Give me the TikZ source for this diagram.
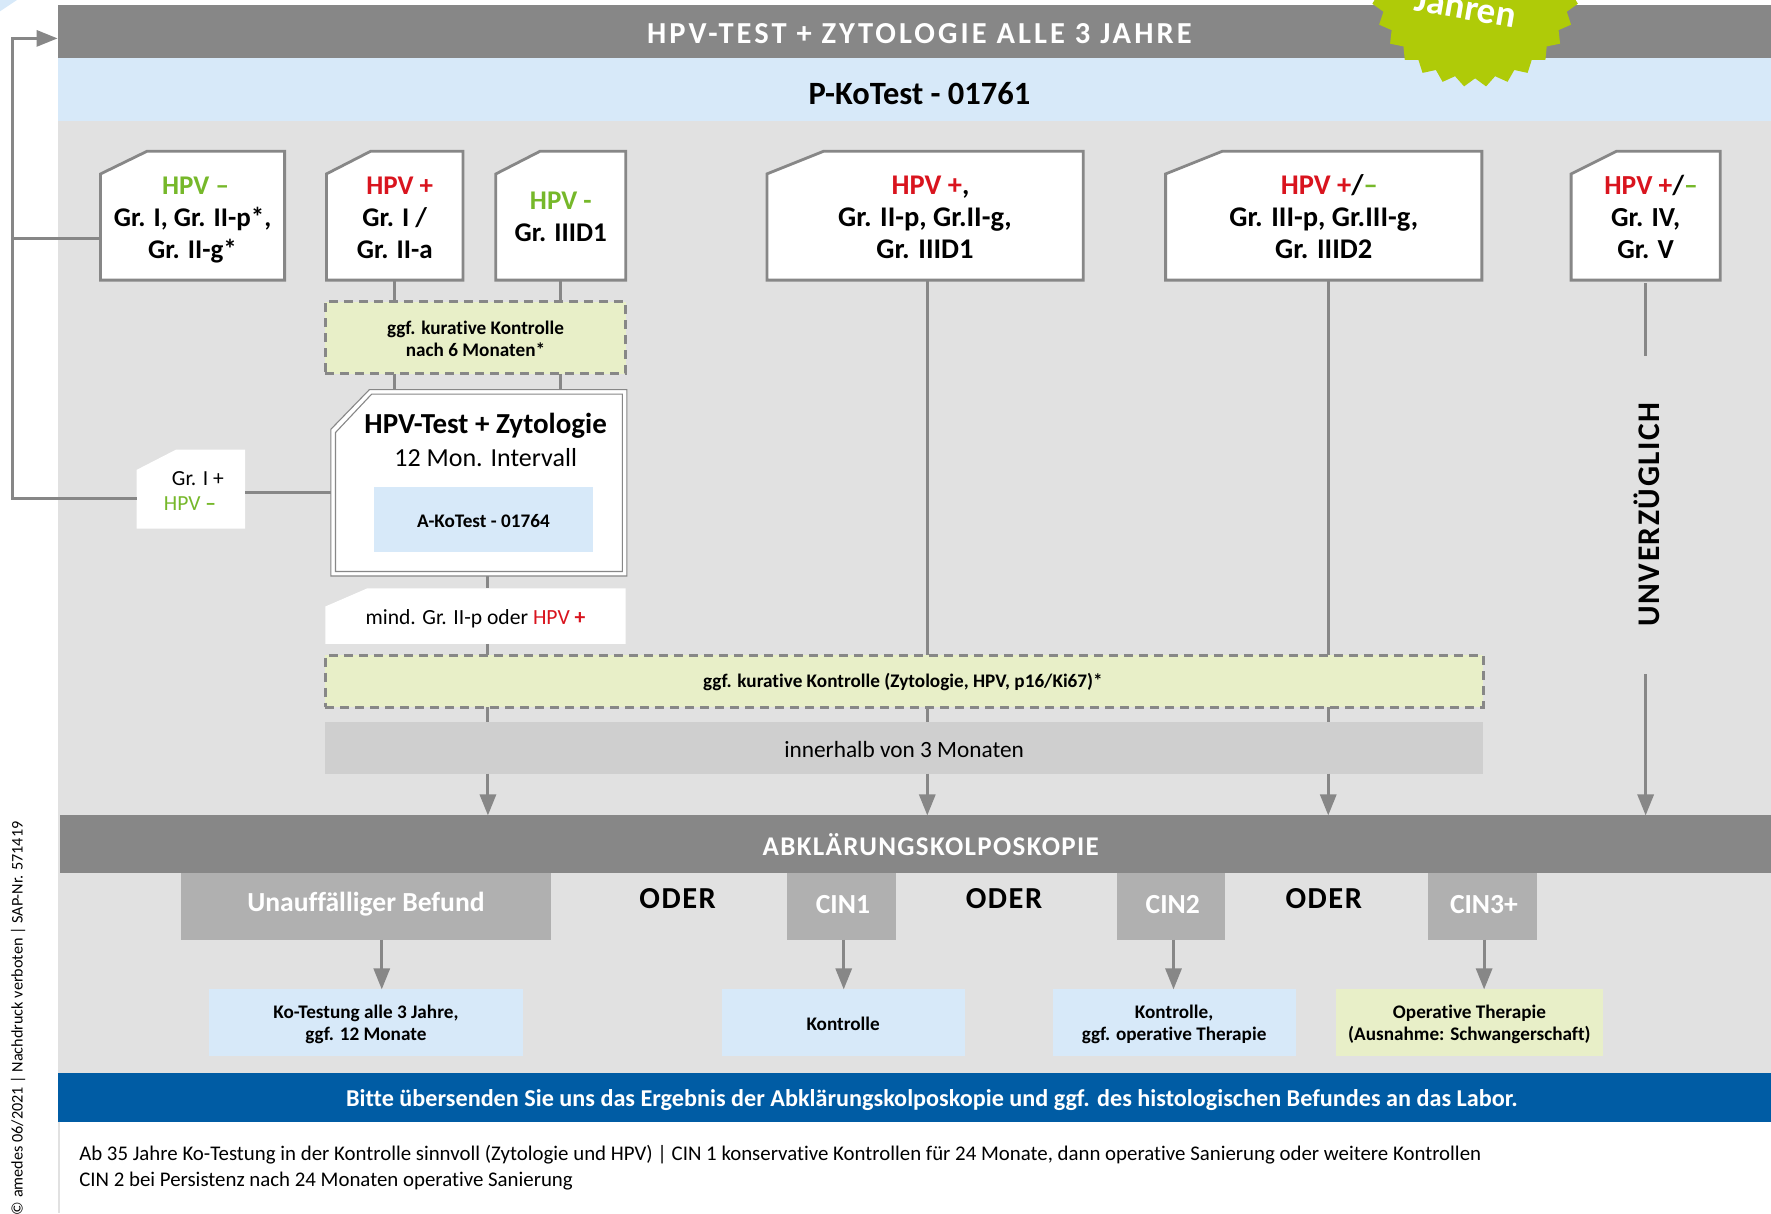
\documentclass[tikz,border=0pt]{standalone}
\usepackage{fontspec}
\setmainfont{Carlito}[Ligatures=NoCommon]
\newfontfamily\trk[LetterSpace=10,Ligatures=NoCommon]{Carlito}
\newfontfamily\trks[LetterSpace=5,Ligatures=NoCommon]{Carlito}
\usetikzlibrary{shapes.geometric,arrows.meta}
\definecolor{bar}{HTML}{878787}
\definecolor{lblue}{HTML}{D7E9F9}
\definecolor{bg}{HTML}{E1E1E1}
\definecolor{lgreen}{HTML}{E8EFC8}
\definecolor{midg}{HTML}{CFCFCF}
\definecolor{resg}{HTML}{B0B0B0}
\definecolor{navy}{HTML}{005CA4}
\definecolor{starg}{HTML}{AFCB08}
\definecolor{hred}{HTML}{D9141E}
\definecolor{hgreen}{HTML}{76B82A}
\newcommand{\plusr}[1]{\textcolor{hred}{#1}}
\newcommand{\plusg}[1]{\textcolor{hgreen}{#1}}
\newcommand{\ty}{1.2}
% \bx{name}{x1}{y1}{x2}{y2}{style}{text}: the box, then its text moved by \ty
\newcommand{\bx}[7]{\node[inner sep=0pt,outer sep=0pt,
  minimum width=1.1295*(#4-#2)*1pt,minimum height=1.1295*(#5-#3)*1pt,#6] (#1) at ({(#2+#4)/2},{(#3+#5)/2}) {};
  \node[inner sep=0pt,align=center,text=black,#6,draw=none,fill=none] (#1t) at ({(#2+#4)/2},{(#3+#5)/2+\ty}) {#7};}
% \cutp{x1}{y1}{x2}{y2}{cutx}{cuty}
\newcommand{\cutp}[6]{(#1,#6) -- (#5,#2) -- (#3,#2) -- (#3,#4) -- (#1,#4) -- cycle}
% \crd{name}{x1}{x2}{cutx}{base y of last line}{size}{text}
\newcommand{\crd}[7]{\fill[cardline] \cutp{#2}{134}{#3}{248}{#4}{154};
  \node[inner sep=0pt,outer sep=0pt,minimum width=1.1295*(#3-#2)*1pt,minimum height=1.1295*114*1pt] (#1) at ({(#2+#3)/2},191) {};
  \node[inner sep=0pt,align=center,anchor=base,font=\fontsize{#6}{32}\selectfont\bfseries] (#1t) at ({(#2+#3)/2},#5) {#7};}
\tikzset{
  link/.style={draw=bar,line width=3pt},
  arr/.style={link,-{Triangle[length=21pt,width=16pt]}},
  cardline/.style={draw=bar,fill=white,line width=2.8pt},
  dash1/.style={draw=bar,fill=lgreen,line width=3pt,dash pattern=on 9pt off 6pt},
  smallb/.style={font=\fontsize{19.2}{22}\selectfont\bfseries},
  bluebox/.style={fill=lblue,smallb},
  greenbox/.style={fill=lgreen,smallb},
  res/.style={fill=resg,text=white,font=\fontsize{27.6}{30}\selectfont\bfseries},
  oder/.style={font=\trks\fontsize{30.5}{32}\selectfont\bfseries,text=black}
}
\begin{document}
\begin{tikzpicture}[x=1.1295pt,y=-1.1295pt]
\useasboundingbox (0,0) rectangle (1568,1074);
\begin{scope}
\clip (0,0) rectangle (1568,1074);
\fill[white] (0,0) rectangle (1568,1074);
\fill[lblue] (0,0) -- (15,0) -- (0,10) -- cycle;
\fill[bg] (51,107) rectangle (1568,950);
\node[fill=bar,inner sep=0pt,outer sep=0pt,minimum width=1.1295*1517*1pt,minimum height=1.1295*47*1pt] (topbar) at (809.5,27.5) {};
\node[text=white,font=\trk\fontsize{30.5}{32}\selectfont\bfseries] (toptxt) at (814,30) {HPV-TEST + ZYTOLOGIE ALLE 3 JAHRE};
\node[fill=lblue,inner sep=0pt,outer sep=0pt,minimum width=1.1295*1517*1pt,minimum height=1.1295*56*1pt] (pko) at (809.5,79) {};
\node[font=\fontsize{32.5}{36}\selectfont\bfseries] (pkotxt) at (814,83) {P-KoTest - 01761};
\node[star,star points=30,star point ratio=1.09,fill=starg,inner sep=0pt,minimum size=1.1295*186*1pt,rotate=6] (seal) at (1306,-16) {};
\node[text=white,rotate=-10,font=\fontsize{37}{38}\selectfont\bfseries] (sealtxt) at (1298,6) {Jahren};
\end{scope}

% feedback line
\coordinate (fbtop) at (11,34);
\coordinate (fblow) at (11,441);
\coordinate (fbmid) at (11,211);
\coordinate (topin) at (51,34);

% cards
\crd{a}{89}{252}{130}{229}{27}{\hspace*{6pt}\plusg{HPV \textbf{–}}\\Gr. I, Gr. II-p*,\\Gr. II-g*}
\crd{b}{289}{410}{328}{229}{27}{\hspace*{10pt}\plusr{HPV +}\\Gr. I /\\Gr. II-a}
\crd{c}{439}{554}{478}{214}{27}{\plusg{HPV -}\\Gr. IIID1}
\crd{d}{679}{959}{729}{229}{28.5}{\hspace*{11pt}\plusr{HPV +},\\Gr. II-p, Gr.II-g,\\Gr. IIID1}
\crd{e}{1032}{1312}{1082}{229}{28.5}{\hspace*{11pt}\plusr{HPV +}/\plusg{–}\\Gr. III-p, Gr.III-g,\\Gr. IIID2}
\crd{f}{1391}{1523}{1431}{229}{27.5}{\hspace*{11pt}\plusr{HPV +}/\plusg{–}\\Gr. IV,\\Gr. V}

% dashed 1
\bx{k1}{288}{267}{554}{331}{dash1,smallb}{ggf. kurative Kontrolle\\nach 6 Monaten*}

% big box
\filldraw[draw=bar,fill=white,line width=1.1pt] \cutp{293}{345}{555}{510}{327}{380};
\draw[draw=bar,line width=1.1pt] \cutp{297}{349}{551}{506}{329}{383};
\node[inner sep=0pt,outer sep=0pt,minimum width=1.1295*262*1pt,minimum height=1.1295*165*1pt] (big) at (424,427.5) {};
\node[font=\fontsize{29}{32}\selectfont\bfseries] (bigt) at (430,377) {HPV-Test + Zytologie};
\node[font=\fontsize{26}{32}\selectfont] (bigs) at (430,405) {12 Mon. Intervall};
\bx{ako}{331}{431}{525}{489}{bluebox}{A-KoTest - 01764}

% small Gr I
\fill[white] \cutp{121}{398}{217}{468}{156}{416};
\node[inner sep=0pt,outer sep=0pt,minimum width=1.1295*96*1pt,minimum height=1.1295*70*1pt] (gr) at (169,433) {};
\node[font=\fontsize{21.5}{25}\selectfont,align=left,anchor=west,inner sep=0pt] (grt) at (145,434.5) {\hspace*{8pt}Gr. I +\\\plusg{HPV \textbf{–}}};

% mind
\fill[white] \cutp{288}{521}{554}{570}{325}{537};
\node[inner sep=0pt,outer sep=0pt,minimum width=1.1295*266*1pt,minimum height=1.1295*49*1pt] (mind) at (421,545.5) {};
\node[font=\fontsize{21.6}{27}\selectfont] (mindt) at (421,547.5) {mind. Gr. II-p oder \plusr{HPV \textbf{+}}};

% dashed 2, gray
\bx{k2}{288}{580}{1313}{626}{dash1,smallb}{\hspace*{-2.5pt}ggf. kurative Kontrolle (Zytologie, HPV, p16/Ki67)*}
\bx{inn}{288}{639}{1313}{685}{fill=midg,font=\fontsize{23.3}{28}\selectfont}{innerhalb von 3 Monaten}

% abkl bar
\node[fill=bar,inner sep=0pt,outer sep=0pt,minimum width=1.1295*1515*1pt,minimum height=1.1295*51*1pt] (abk) at (810.5,747.5) {};
\node[text=white,font=\trks\fontsize{27}{30}\selectfont\bfseries] (abkt) at (824,748) {ABKLÄRUNGSKOLPOSKOPIE};

% results
\renewcommand{\ty}{-2}
\bx{r1}{160}{773}{488}{832}{res}{Unauffälliger Befund}
\bx{r2}{697}{773}{793}{832}{res}{\hspace*{3pt}CIN1}
\bx{r3}{989}{773}{1085}{832}{res}{\hspace*{3pt}CIN2}
\bx{r4}{1264}{773}{1361}{832}{res}{\hspace*{3pt}CIN3+}
\renewcommand{\ty}{1.2}
\node[oder] (o1) at (600,796) {ODER};
\node[oder] (o2) at (889,796) {ODER};
\node[oder] (o3) at (1172,796) {ODER};

% bottom boxes
\bx{b1}{185}{876}{463}{935}{bluebox}{Ko-Testung alle 3 Jahre,\\ggf. 12 Monate}
\bx{b2}{639}{876}{854}{935}{bluebox}{Kontrolle}
\bx{b3}{932}{876}{1147}{935}{bluebox}{Kontrolle,\\ggf. operative Therapie}
\bx{b4}{1183}{876}{1419}{935}{greenbox}{Operative Therapie\\(Ausnahme: Schwangerschaft)}

% blue band
\node[fill=navy,inner sep=0pt,outer sep=0pt,minimum width=1.1295*1517*1pt,minimum height=1.1295*43*1pt] (band) at (809.5,971.5) {};
\node[text=white,font=\fontsize{24.2}{27}\selectfont\bfseries] (bandt) at (825,974) {Bitte übersenden Sie uns das Ergebnis der Abklärungskolposkopie und ggf. des histologischen Befundes an das Labor.};

% footer
\coordinate (edgeA) at (52,993);
\coordinate (edgeB) at (52,1074);
\draw[bg,line width=2pt] (edgeA) -- (edgeB);
\node[anchor=north west,inner sep=0pt,align=left,font=\fontsize{20.85}{26}\selectfont] (foot) at (70,1014) {Ab 35 Jahre Ko-Testung in der Kontrolle sinnvoll (Zytologie und HPV) | CIN 1 konservative Kontrollen für 24 Monate, dann operative Sanierung oder weitere Kontrollen\\CIN 2 bei Persistenz nach 24 Monaten operative Sanierung};
\node[rotate=90,anchor=west,inner sep=0pt,font=\fontsize{16.2}{18}\selectfont] (side) at (16,1076) {© amedes 06/2021 | Nachdruck verboten | SAP-Nr. 571419};
\node[rotate=90,font=\trks\fontsize{31.5}{34}\selectfont\bfseries] (unv) at (1458,455.5) {UNVERZÜGLICH};

% connectors
\coordinate (xa) at (432,0);
\coordinate (xd) at (821,0);
\coordinate (xe) at (1176,0);
\coordinate (xf) at (1457,0);
\coordinate (ya) at (0,436);
\coordinate (f1) at (1457,315);
\coordinate (f2) at (1457,597);
\coordinate (fs) at (1457,251);
\coordinate (p1) at (338,0);
\coordinate (p2) at (747,0);
\coordinate (p3) at (1039,0);
\coordinate (p4) at (1314,0);
\draw[link] (a.west |- fbmid) -- (fbmid);
\draw[arr] (gr.west |- fblow) -- (fblow) -- (fbtop) -- (topin);
\draw[link] (gr.east |- ya) -- (big.west |- ya);
\draw[link] (b.south) -- (k1.north -| b.south);
\draw[link] (c.south) -- (k1.north -| c.south);
\draw[link] (k1.south -| b.south) -- (big.north -| b.south);
\draw[link] (k1.south -| c.south) -- (big.north -| c.south);
\draw[link] (big.south -| xa) -- (mind.north -| xa);
\draw[link] (mind.south -| xa) -- (k2.north -| xa);
\draw[link] (k2.south -| xa) -- (inn.north -| xa);
\draw[arr] (inn.south -| xa) -- (abk.north -| xa);
\draw[link] (d.south -| xd) -- (k2.north -| xd);
\draw[link] (k2.south -| xd) -- (inn.north -| xd);
\draw[arr] (inn.south -| xd) -- (abk.north -| xd);
\draw[link] (e.south -| xe) -- (k2.north -| xe);
\draw[link] (k2.south -| xe) -- (inn.north -| xe);
\draw[arr] (inn.south -| xe) -- (abk.north -| xe);
\draw[link] (fs) -- (f1);
\draw[arr] (f2) -- (abk.north -| xf);
\draw[arr] (r1.south -| p1) -- (b1.north -| p1);
\draw[arr] (r2.south -| p2) -- (b2.north -| p2);
\draw[arr] (r3.south -| p3) -- (b3.north -| p3);
\draw[arr] (r4.south -| p4) -- (b4.north -| p4);
\end{tikzpicture}
\end{document}
